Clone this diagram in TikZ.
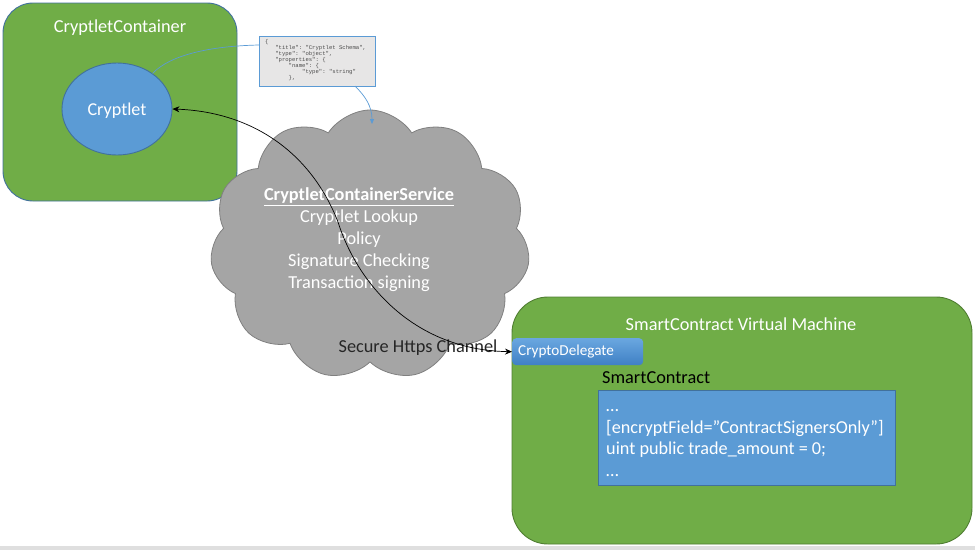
\documentclass[tikz,border=0pt]{standalone}
\usepackage{fontspec}
\setmainfont{Carlito}
\setmonofont{Liberation Mono}
\usetikzlibrary{shapes.symbols,shapes.geometric,arrows.meta}
\definecolor{cgreen}{HTML}{70AD47}
\definecolor{cblue}{HTML}{5B9BD5}
\definecolor{cblueb}{HTML}{41719C}
\definecolor{cgreenb}{HTML}{507E32}
\definecolor{cgray}{HTML}{A5A5A5}
\definecolor{cgrayb}{HTML}{808080}
\definecolor{jsonfill}{HTML}{E7E6E6}
\definecolor{darktext}{HTML}{262626}
\definecolor{delegtop}{HTML}{6AA7E0}
\definecolor{delegbot}{HTML}{3F80C4}
\newcommand{\jind}[1]{\hspace*{\dimexpr#1\fontcharwd\font`0\relax}}
\tikzset{
  container/.style={draw=cblueb, line width=0.9pt, fill=cgreen, rounded corners=30pt},
  vmbox/.style={draw=cgreenb, line width=0.9pt, fill=cgreen, rounded corners=36pt},
  blueshape/.style={draw=cblueb, line width=0.9pt, fill=cblue},
  jsonbox/.style={draw=cblue, line width=0.8pt, fill=jsonfill},
  title/.style={text=white, font=\fontsize{18.3}{21}\selectfont},
  bluelink/.style={draw=cblue, line width=0.7pt},
  blacklink/.style={draw=black, line width=0.7pt, {Stealth[length=7pt,width=6pt]}-{Stealth[length=7pt,width=6pt]}},
}
\begin{document}
\begin{tikzpicture}[x=1pt,y=-1pt]
\useasboundingbox (0,0) rectangle (975,550);
\fill[gray!25] (0,546) rectangle (975,550);

% Cryptlet container
\path[container] (3,3) rectangle (237,201);
\node[title] (cctitle) at (120,28) {CryptletContainer};
\node[blueshape, ellipse, minimum width=110, minimum height=92, inner sep=0pt] (cr) at (117,109) {};
\node[text=white, font=\fontsize{18.1}{21}\selectfont] (crtext) at (117,111) {Cryptlet};

% cloud
\node[cloud, cloud puffs=11, cloud puff arc=115, cloud ignores aspect,
      minimum width=320, minimum height=270, draw=cgrayb, line width=0.8pt,
      fill=cgray] (cloud) at (370,245) {};
\node[text=white, align=center, font=\fontsize{18.3}{22}\selectfont] (svc) at (359,240)
  {\underline{\textbf{CryptletContainerService}}\\Cryptlet Lookup\\Policy\\Signature Checking\\Transaction signing};

% JSON callout
\coordinate (jl) at (259,45);
\draw[bluelink] (cr.45) .. controls (170,55) and (210,46) .. (jl);
\node[jsonbox, anchor=north west, minimum width=116, minimum height=50, inner sep=0pt] (json) at (259,36) {};
\node[anchor=north west, align=left, inner sep=0pt, text=black!70,
      font=\ttfamily\fontsize{5.6}{6}\selectfont] (jsontext) at (265,39.5)
  {\{\\
   \jind{3}"title": "Cryptlet Schema",\\
   \jind{3}"type": "object",\\
   \jind{3}"properties": \{\\
   \jind{7}"name": \{\\
   \jind{11}"type": "string"\\
   \jind{7}\},};
\coordinate (cloudtop) at (372,124);
\draw[bluelink, -{Triangle[length=5pt,width=4pt]}] (355,86) .. controls (365,96) and (372,106) .. (cloudtop);

% SmartContract VM
\path[vmbox] (512,297) rectangle (972,544);
\node[title] (vmtitle) at (741,324) {SmartContract Virtual Machine};
\node[anchor=north west, minimum width=131, minimum height=27, inner sep=0pt,
      rounded corners=4pt, top color=delegtop, bottom color=delegbot] (cd) at (512,338) {};
\node[anchor=west, text=white, inner sep=0pt, font=\fontsize{15.2}{18}\selectfont] (cdtext) at (518,352) {CryptoDelegate};
\node[anchor=west, text=black, inner sep=0pt, font=\fontsize{18.3}{21}\selectfont] (sclabel) at (602,378) {SmartContract};
\node[blueshape, anchor=north west, minimum width=297, minimum height=95, inner sep=0pt] (code) at (598,390) {};
\node[anchor=west, align=left, text=white, inner sep=0pt, font=\fontsize{18.2}{21.7}\selectfont] (codetext) at (606,443)
  {…\\\relax[encryptField=”ContractSignersOnly”]\\uint public trade\_amount = 0;\\…};

% secure channel
\node[text=darktext, inner sep=0pt, font=\fontsize{18.3}{21}\selectfont] (sec) at (418,348) {Secure Https Channel};
\draw[blacklink] (cr.east) .. controls (255,112) and (312,155) .. (338,222)
   .. controls (358,285) and (415,350) .. (cd.west);
\end{tikzpicture}
\end{document}
